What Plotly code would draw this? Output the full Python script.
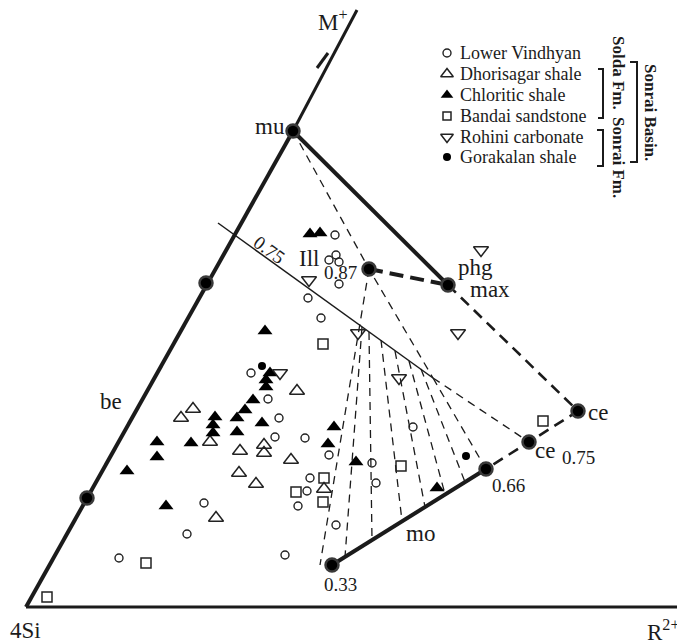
import plotly.graph_objects as go

# ---------------- data (pixel-space diagram coordinates, y grows downward) -------------
lower_vindhyan_x = [335, 336, 329, 339, 339, 308, 321, 251, 268, 279, 275, 305, 329, 310, 307, 298, 336, 204, 187, 119, 285, 413, 372, 376]
lower_vindhyan_y = [235, 255, 260, 262, 284, 298, 318, 373, 399, 418, 437, 438, 455, 478, 491, 506, 525, 503, 534, 558, 555, 427, 463, 483]

dhorisagar_x = [297, 193, 181, 210, 240, 264, 264, 291, 239, 256, 216, 324]
dhorisagar_y = [391, 409, 418, 442, 451, 445, 453, 460, 473, 484, 518, 489]

chloritic_x = [310, 320, 265, 270, 266, 266, 253, 245, 237, 262, 215, 213, 213, 237, 157, 157, 191, 127, 166, 334, 328, 356, 437]
chloritic_y = [234, 233, 331, 373, 380, 387, 400, 410, 418, 423, 417, 425, 433, 432, 442, 457, 443, 471, 506, 427, 444, 462, 488]

bandai_x = [323, 324, 296, 323, 146, 47, 401, 543]
bandai_y = [344, 478, 492, 502, 563, 597, 466, 421]

rohini_x = [309, 280, 481, 458, 358, 399]
rohini_y = [280, 373, 250, 333, 333, 378]

gorakalan_x = [262, 466]
gorakalan_y = [366, 456]

# reference nodes of the diagram
node_names = ["mu", "n1", "n2", "ill", "max", "ce1", "ce2", "mo66", "mo33"]
node_x = [293, 206, 87, 369, 448, 578, 529, 486, 332]
node_y = [131, 283, 498, 269, 285, 411, 442, 469, 565]

corner_x = [26, 357, 680]      # 4Si, M+, R2+
corner_y = [607, 10, 607]

# I/S tie lines (top point on the 0.75 line -> point on the mo line)
fan_top_x = [369, 362, 369, 381, 395, 409, 421, 433]
fan_top_y = [269, 327, 332, 340, 351, 361, 369, 378]
fan_bot_x = [320, 345, 372, 402, 425, 445, 465, 486]
fan_bot_y = [565, 557, 540, 521, 507, 494, 482, 469]

legend_labels = ["Lower Vindhyan", "Dhorisagar shale", "Chloritic shale",
                 "Bandai sandstone", "Rohini carbonate", "Gorakalan shale"]

# ------------------------------------------------------------------------------
INK = "#1b1b1b"
SERIF = "Liberation Serif"
PAGE_OFFSET = 8  # default body margin of the written page
fig = go.Figure()


def seg(x, y, width=1.2, dash="solid", color=INK):
    fig.add_trace(go.Scatter(x=x, y=y, mode="lines", hoverinfo="skip",
                             line=dict(color=color, width=width, dash=dash),
                             showlegend=False))


N = dict(zip(node_names, zip(node_x, node_y)))

# triangle frame
seg([corner_x[0], corner_x[2]], [corner_y[0], corner_y[2]], width=3)
seg([corner_x[0], N["mu"][0]], [corner_y[0], N["mu"][1]], width=4)
seg([N["mu"][0], corner_x[1]], [N["mu"][1], corner_y[1]], width=3)
seg([317, 328], [68, 53], width=3)  # small parallel tick on M+ side

# mu - max solid, ill - max thick dash
seg([N["mu"][0], N["max"][0]], [N["mu"][1], N["max"][1]], width=4)
seg([N["ill"][0], N["max"][0]], [N["ill"][1], N["max"][1]], width=4, dash="14px,7px")
# max - ce - ce - 0.66 dashed
seg([N["max"][0], N["ce1"][0], N["ce2"][0], N["mo66"][0]],
    [N["max"][1], N["ce1"][1], N["ce2"][1], N["mo66"][1]], width=2.6, dash="11px,7px")
# mo line
seg([N["mo33"][0], N["mo66"][0]], [N["mo33"][1], N["mo66"][1]], width=4)

# 0.75 line (solid part + dashed continuation)
seg([218, 433], [223, 378], width=1.5)
seg([433, N["ce2"][0]], [378, N["ce2"][1]], width=1.4, dash="8px,6px")

# thin dashed lines from mu / ill
seg([N["mu"][0], N["ill"][0], 433], [N["mu"][1], N["ill"][1], 378], width=1.3, dash="8px,6px")
for tx, ty, bx, by in zip(fan_top_x, fan_top_y, fan_bot_x, fan_bot_y):
    seg([tx, bx], [ty, by], width=1.3, dash="8px,6px")

# nodes
fig.add_trace(go.Scatter(x=node_x, y=node_y, mode="markers", hoverinfo="skip", showlegend=False,
                         marker=dict(size=13, color="#000000", line=dict(color="#3a3a3a", width=2.5))))

# data series
series = [
    (lower_vindhyan_x, lower_vindhyan_y, "circle-open", 8, "#222", 1.4),
    (dhorisagar_x, dhorisagar_y, "triangle-up-open", 13, "#222", 1.5),
    (chloritic_x, chloritic_y, "triangle-up", 13, "#000", 0),
    (bandai_x, bandai_y, "square-open", 10, "#222", 1.5),
    (rohini_x, rohini_y, "triangle-down-open", 13, "#222", 1.5),
    (gorakalan_x, gorakalan_y, "circle", 8, "#000", 0),
]
for (sx, sy, sym, sz, col, lw), name in zip(series, legend_labels):
    fig.add_trace(go.Scatter(x=sx, y=sy, mode="markers", name=name, showlegend=False,
                             marker=dict(symbol=sym, size=sz, color=col,
                                         line=dict(color=col, width=lw))))

# legend (manual)
leg_y = [53, 74, 95, 116, 137, 157]
for (sx, sy, sym, sz, col, lw), ly, name in zip(series, leg_y, legend_labels):
    fig.add_trace(go.Scatter(x=[447], y=[ly], mode="markers", hoverinfo="skip", showlegend=False,
                             marker=dict(symbol=sym, size=sz - 2 if sz > 9 else sz, color=col,
                                         line=dict(color=col, width=lw))))
    fig.add_annotation(x=458, y=ly, text=name, showarrow=False, xanchor="left", yanchor="middle",
                       font=dict(family=SERIF, size=18, color=INK))

# brackets
seg([598, 603, 603, 598], [69, 69, 118, 118], width=2)
seg([597, 603, 603, 597], [130, 130, 166, 166], width=2)
seg([630, 637, 637, 630], [62, 62, 162, 162], width=2)
for tx, ty, t in [(619, 73, "Solda Fm."), (619, 157, "Sonrai Fm."), (651, 112, "Sonrai Basin.")]:
    fig.add_annotation(x=tx, y=ty, text="<b>%s</b>" % t, textangle=90, showarrow=False,
                       xanchor="center", yanchor="middle",
                       font=dict(family=SERIF, size=17, color=INK))

# labels
labels = [
    (333, 20, "M<sup>+</sup>", 23, "center"), (270, 126, "mu", 23, "center"), (111, 401, "be", 23, "center"),
    (309, 258, "Ill", 23, "center"), (340, 272, "0.87", 19, "center"), (475, 267, "phg", 23, "center"),
    (490, 289, "max", 23, "center"), (598, 412, "ce", 23, "center"), (545, 450, "ce", 23, "center"),
    (578, 457, "0.75", 19, "center"), (508, 485, "0.66", 19, "center"), (420, 533, "mo", 23, "center"),
    (340, 584, "0.33", 19, "center"), (8, 630, "4Si", 23, "left"), (681, 630, "R<sup>2+</sup>", 23, "right"),
]
for lx, ly, t, fs, xa in labels:
    fig.add_annotation(x=lx, y=ly, text=t, showarrow=False, xanchor=xa, yanchor="middle",
                       font=dict(family=SERIF, size=fs, color=INK))
fig.add_annotation(x=269, y=249, text="0.75", textangle=36, showarrow=False,
                   xanchor="center", yanchor="middle", font=dict(family=SERIF, size=19, color=INK))

fig.update_layout(
    width=685 - PAGE_OFFSET, height=643 - PAGE_OFFSET, margin=dict(l=0, r=0, t=0, b=0),
    paper_bgcolor="white", plot_bgcolor="white", showlegend=False,
    xaxis=dict(range=[PAGE_OFFSET, 685], visible=False, fixedrange=True),
    yaxis=dict(range=[643, PAGE_OFFSET], visible=False, fixedrange=True),
)
fig.write_html("out.html")
